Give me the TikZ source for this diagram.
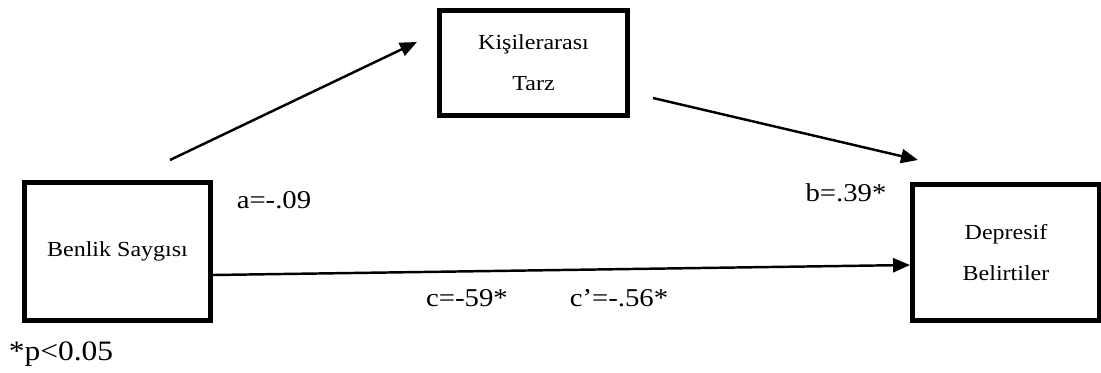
\documentclass[tikz,border=0pt]{standalone}
\usepackage{fontspec}
\setmainfont{Liberation Serif}[FakeStretch=1.12]
\usepackage{tikz}
\usetikzlibrary{arrows.meta, positioning, calc}

\begin{document}
\begin{tikzpicture}[
			var/.style={rectangle, draw=black, line width=2.8pt, fill=white, align=center, font=\fontsize{12.2}{23.3}\selectfont, inner sep=2pt},
			path/.style={line width=1.4pt, -{Triangle[length=3.4mm, width=2.8mm]}},
			coef/.style={font=\fontsize{14.6}{16}\selectfont}
			]
			\useasboundingbox (0,0) rectangle (22.02,7.44);
			
			% Variables
			\node[var, minimum width=3.72cm, minimum height=2.76cm] (benlik) at (2.35, 2.41) {Benlik Saygısı};
			\node[var, minimum width=3.76cm, minimum height=2.10cm] (kisi) at (10.67, 6.18) {Kişilerarası\\Tarz};
			\node[var, minimum width=3.74cm, minimum height=2.72cm] (depresif) at (20.12, 2.39) {Depresif\\Belirtiler};
			
			% Path ends
			\coordinate (a1) at (3.40, 4.24);
			\coordinate (a2) at (8.34, 6.60);
			\coordinate (b1) at (13.06, 5.48);
			\coordinate (b2) at (18.36, 4.24);
			\coordinate (c1) at ($(benlik.east)+(0,-0.47)$);
			\coordinate (c2) at ($(depresif.west)+(0,-0.25)$);
			
			% Paths
			\draw[path] (a1) -- (a2);
			\draw[path] (b1) -- (b2);
			\draw[path] (c1) -- (c2);
			
			% Coefficients
			\node[coef] (ca) at (5.48, 3.44) {a=-.09};
			\node[coef] (cb) at (16.92, 3.58) {b=.39*};
			\node[coef] (cc) at (9.34, 1.48) {c=-59*};
			\node[coef] (ccp) at (12.38, 1.48) {c’=-.56*};
			\node[coef, font=\fontsize{16}{18}\selectfont] (sig) at (1.22, 0.36) {*p<0.05};
		\end{tikzpicture}
\end{document}
